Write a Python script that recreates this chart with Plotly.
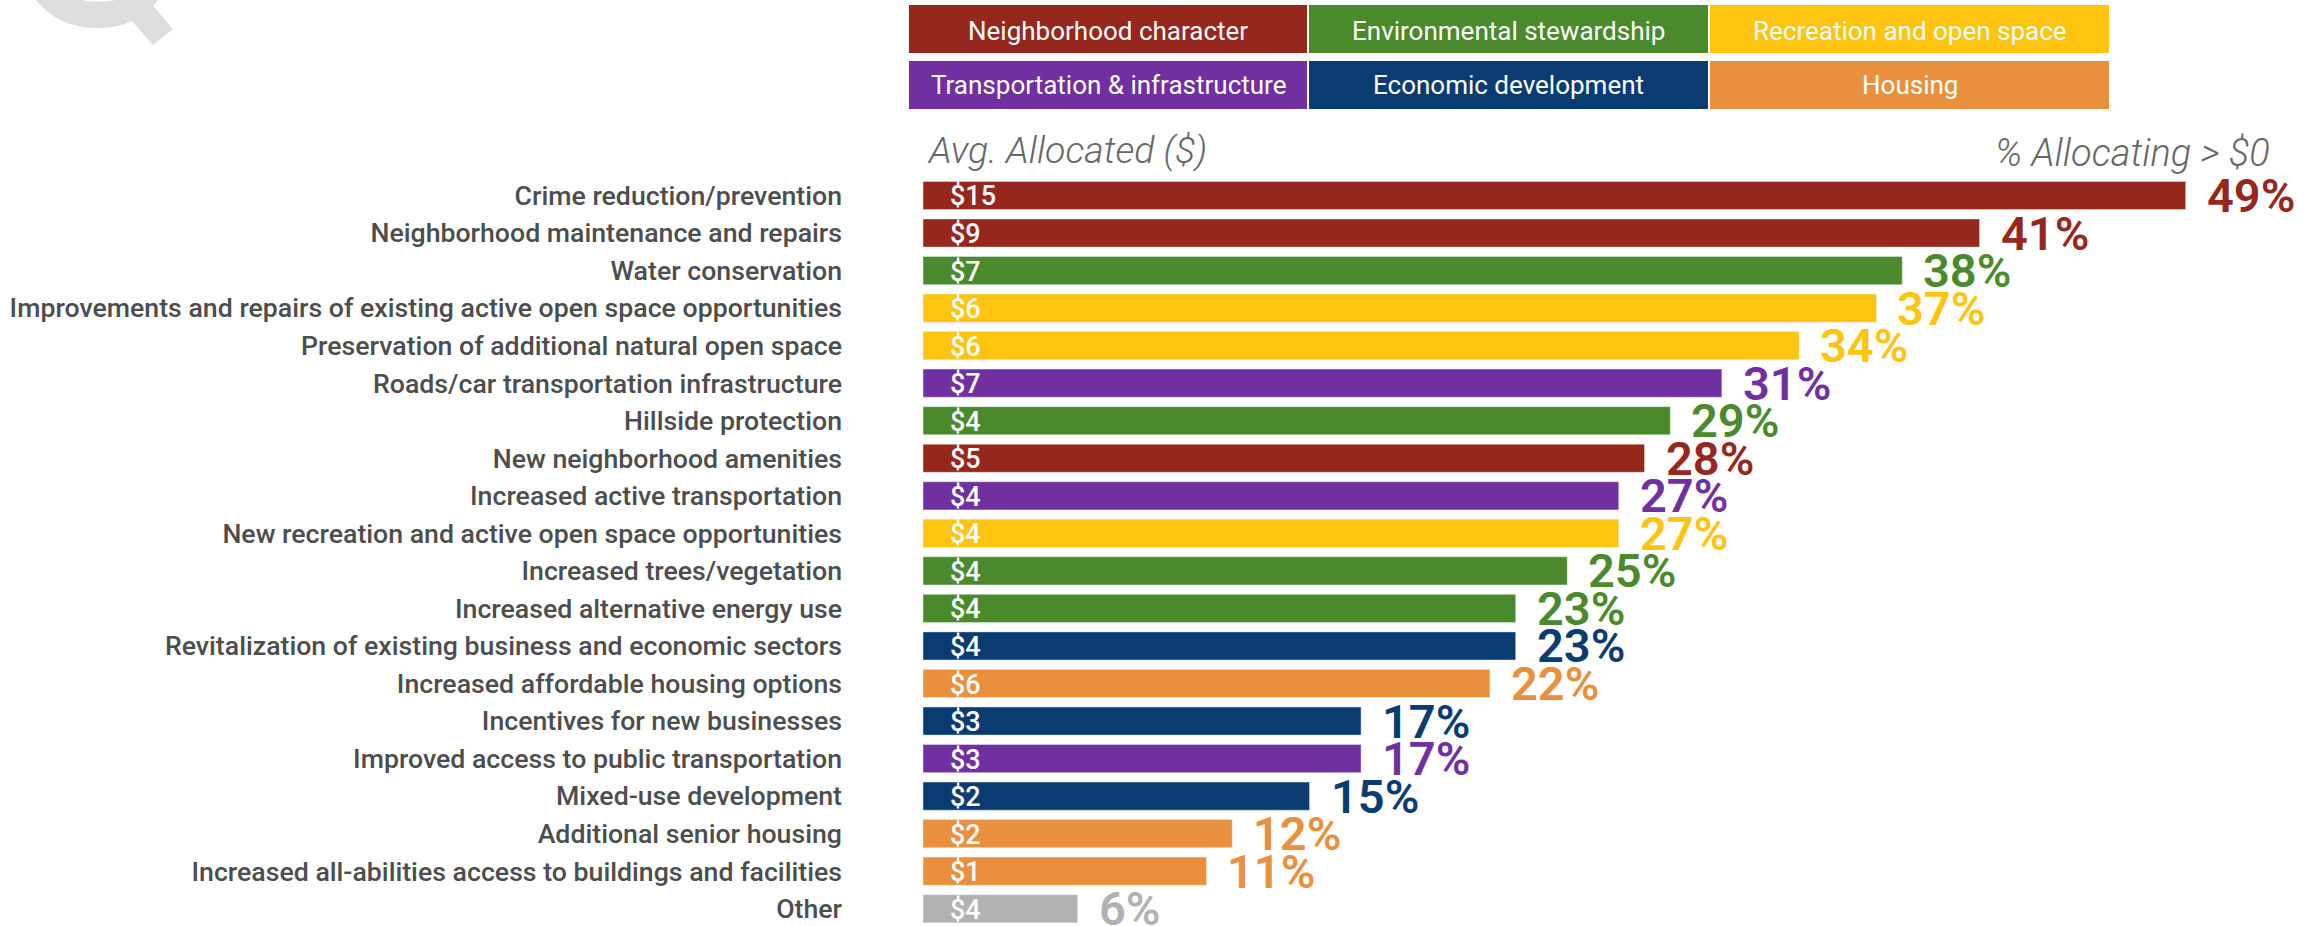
import plotly.graph_objects as go

FONT = "Roboto"
W, H = 2315, 926
LEFT, TOP = 923, 176

categories = [
    "Crime reduction/prevention",
    "Neighborhood maintenance and repairs",
    "Water conservation",
    "Improvements and repairs of existing active open space opportunities",
    "Preservation of additional natural open space",
    "Roads/car transportation infrastructure",
    "Hillside protection",
    "New neighborhood amenities",
    "Increased active transportation",
    "New recreation and active open space opportunities",
    "Increased trees/vegetation",
    "Increased alternative energy use",
    "Revitalization of existing business and economic sectors",
    "Increased affordable housing options",
    "Incentives for new businesses",
    "Improved access to public transportation",
    "Mixed-use development",
    "Additional senior housing",
    "Increased all-abilities access to buildings and facilities",
    "Other",
]
pct_allocating = [49, 41, 38, 37, 34, 31, 29, 28, 27, 27, 25, 23, 23, 22, 17, 17, 15, 12, 11, 6]
avg_allocated = [15, 9, 7, 6, 6, 7, 4, 5, 4, 4, 4, 4, 4, 6, 3, 3, 2, 2, 1, 4]
groups = ["N", "N", "E", "R", "R", "T", "E", "N", "T", "R", "E", "E", "D", "H", "D", "T", "D", "H", "H", "O"]

group_colors = {
    "N": "#96271C",
    "E": "#4A8A2D",
    "R": "#FFC40F",
    "T": "#7030A0",
    "D": "#0B3C71",
    "H": "#E9903F",
    "O": "#B2B2B2",
}
legend_names = [
    "Neighborhood character", "Environmental stewardship", "Recreation and open space",
    "Transportation & infrastructure", "Economic development", "Housing",
]
legend_keys = ["N", "E", "R", "T", "D", "H"]
legend_x = [(909, 1307), (1309, 1708), (1710, 2109)]
legend_y = [(5, 53), (61, 109)]
legend_text_y = [31, 85.5]


def px(x):
    return (x - LEFT) / (W - LEFT)


def py(y):
    return (H - y) / (H - TOP)


colors = [group_colors[g] for g in groups]

fig = go.Figure(go.Bar(
    x=pct_allocating,
    y=categories,
    orientation="h",
    marker_color=colors,
    hoverinfo="skip",
))

annotations = []
for cat, pct, avg, col in zip(categories, pct_allocating, avg_allocated, colors):
    annotations.append(dict(x=0, y=cat, text=f"${avg}", xanchor="left", yanchor="middle", xshift=25, yshift=-1,
                            showarrow=False, font=dict(family=FONT, size=27, color="white", weight=500)))
    annotations.append(dict(x=pct, y=cat, text=f"{pct}%", xanchor="left", yanchor="middle", xshift=19, showarrow=False,
                            font=dict(family=FONT, size=47, color=col, weight=600)))

shapes = []
for i, (name, key) in enumerate(zip(legend_names, legend_keys)):
    x0, x1 = legend_x[i % 3]
    y0, y1 = legend_y[i // 3]
    shapes.append(dict(type="rect", xref="paper", yref="paper", x0=px(x0), x1=px(x1), y0=py(y1), y1=py(y0),
                       fillcolor=group_colors[key], line_width=0, layer="below"))
    annotations.append(dict(xref="paper", yref="paper", x=px((x0 + x1) / 2), y=py(legend_text_y[i // 3]), text=name,
                            xanchor="center", yanchor="middle", showarrow=False,
                            font=dict(family=FONT, size=26, color="white")))

annotations.append(dict(xref="paper", yref="paper", x=px(925), y=py(150), text="<i>Avg. Allocated ($)</i>",
                        xanchor="left", yanchor="middle", showarrow=False,
                        font=dict(family=FONT, size=37.5, color="#666666", weight=300)))
annotations.append(dict(xref="paper", yref="paper", x=px(2272), y=py(153), text="<i>% Allocating &gt; $0</i>",
                        xanchor="right", yanchor="middle", showarrow=False,
                        font=dict(family=FONT, size=38, color="#666666", weight=300)))

# corner of the logo, cut off by the top of the page
q_path = (
    f"M{px(36)} {py(0)} C{px(50)} {py(18)} {px(72)} {py(28)} {px(97)} {py(28)} "
    f"C{px(110)} {py(28)} {px(122)} {py(26)} {px(132)} {py(21)} "
    f"L{px(153)} {py(45)} L{px(173)} {py(29)} L{px(153)} {py(6)} L{px(158)} {py(0)} L{px(115)} {py(0)} "
    f"C{px(108)} {py(2)} {px(90)} {py(2)} {px(82)} {py(0)} Z"
)
shapes.append(dict(type="path", xref="paper", yref="paper", path=q_path,
                   fillcolor="#DCDEDE", line_width=0, layer="below"))

fig.update_layout(
    width=W,
    height=H,
    autosize=False,
    margin=dict(l=LEFT, r=0, t=TOP, b=0),
    plot_bgcolor="white",
    paper_bgcolor="white",
    showlegend=False,
    bargap=0.25,
    annotations=annotations,
    shapes=shapes,
    xaxis=dict(range=[0, (W - LEFT) / 25.77], visible=False, fixedrange=True),
    yaxis=dict(
        type="category",
        range=[19.46, -0.519],
        showgrid=False,
        showline=False,
        zeroline=False,
        ticks="",
        ticklabelstandoff=80,
        automargin=False,
        fixedrange=True,
        tickfont=dict(family=FONT, size=26.7, color="#4D4D4D", weight=500),
    ),
)

# the page's default 8px body margin would shift the whole chart
fig.write_html("out.html", config={"displayModeBar": False}, post_script="document.body.style.margin = '0';")
